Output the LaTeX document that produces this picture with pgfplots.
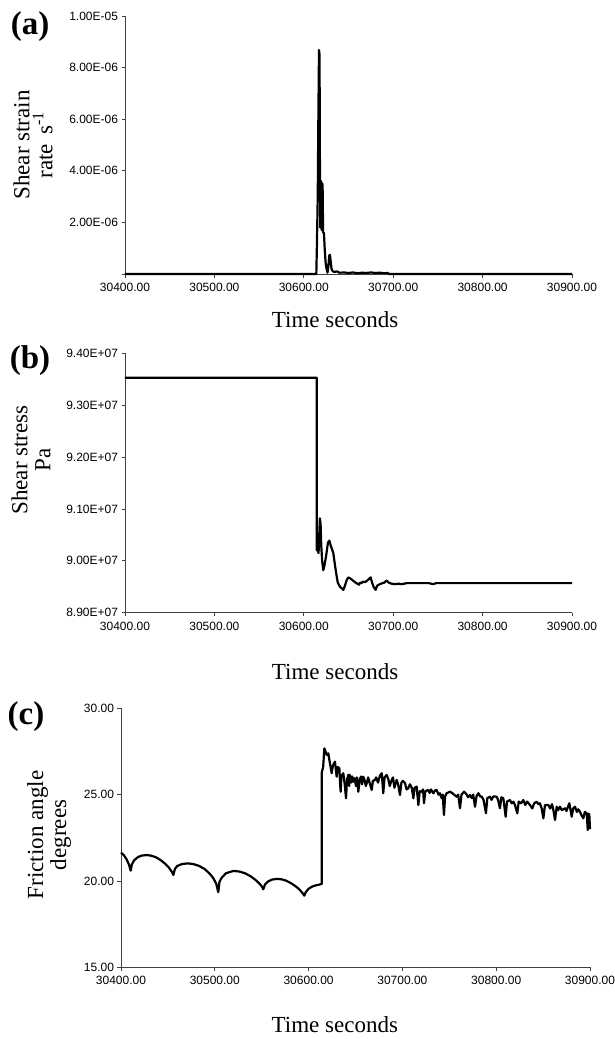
\documentclass[border=0pt]{standalone}
\usepackage{fontspec}
\setmainfont{Liberation Serif}
\newfontfamily\arial{Liberation Sans}
\usepackage{pgfplots}
\pgfplotsset{compat=1.18}

\pgfplotsset{
  xlstyle/.style={
    scale only axis,
    width=#1,
    axis x line=bottom, axis y line=left,
    axis line style={-, black!75, line width=0.8pt},
    tick style={black!75, line width=0.8pt},
    tick align=outside, major tick length=3.5pt,
    xmin=30400, xmax=30900,
    xtick={30400,30500,30600,30700,30800,30900},
    xticklabels={30400.00,30500.00,30600.00,30700.00,30800.00,30900.00},
    scaled y ticks=false, scaled x ticks=false,
    tick label style={font=\arial\fontsize{12}{13}\selectfont},
    xticklabel style={yshift=-2pt},
    label style={font=\fontsize{23}{23}\selectfont, align=center},
    xlabel={Time seconds},
    clip=false,
  },
  trace/.style={black, line width=2.2pt, line join=round, no marks},
}

\begin{document}
\begin{tikzpicture}
\useasboundingbox (0pt,0pt) rectangle (614pt,-1039pt);

% (a) shear strain rate
\begin{axis}[xlstyle=447pt, height=258pt,
  at={(125pt,-274pt)}, anchor=south west,
  ymin=0, ymax=1e-5,
  ytick={0,2e-6,4e-6,6e-6,8e-6,1e-5},
  yticklabels={,2.00E-06,4.00E-06,6.00E-06,8.00E-06,1.00E-05},
  ylabel={Shear strain\\rate\, s\textsuperscript{-1}},
  ylabel style={at={(axis description cs:-0.206,0.5)}, anchor=center},
  xlabel style={at={(axis description cs:0.47,-0.178)}, anchor=center},
]
\addplot[trace] coordinates {
 (30400,0) (30614.0,0) (30614.6,1.0e-6) (30615.6,3.0e-6) (30616.2,5.7e-6)
 (30617.0,8.68e-6) (30617.6,8.5e-6) (30618.0,4.5e-6) (30618.4,1.8e-6)
 (30618.8,3.6e-6) (30619.4,3.6e-6) (30620.0,1.7e-6) (30620.5,3.5e-6)
 (30621.0,3.5e-6) (30621.6,1.6e-6) (30622.5,1.6e-6) (30623.5,0.9e-6)
 (30624.5,0.4e-6) (30625.5,0.2e-6) (30626.5,0.05e-6) (30627.5,0.3e-6)
 (30628.5,0.72e-6) (30629.3,0.74e-6) (30630.2,0.45e-6) (30631.0,0.2e-6)
 (30632,0.12e-6) (30634,0.08e-6) (30637,0.1e-6) (30640,0.05e-6)
 (30645,0.06e-6) (30650,0.04e-6) (30655,0.06e-6) (30660,0.03e-6)
 (30665,0.05e-6) (30670,0.04e-6) (30675,0.06e-6) (30680,0.04e-6)
 (30685,0.05e-6) (30690,0.03e-6) (30694,0.04e-6) (30695,0) (30900,0)
};
\end{axis}

% (b) shear stress
\begin{axis}[xlstyle=447pt, height=259.4pt,
  at={(125pt,-612.7pt)}, anchor=south west,
  ymin=8.9e7, ymax=9.4e7,
  ytick={8.9e7,9.0e7,9.1e7,9.2e7,9.3e7,9.4e7},
  yticklabels={8.90E+07,9.00E+07,9.10E+07,9.20E+07,9.30E+07,9.40E+07},
  ylabel={Shear stress\\Pa},
  ylabel style={at={(axis description cs:-0.21,0.589)}, anchor=center},
  xlabel style={at={(axis description cs:0.47,-0.2275)}, anchor=center},
]
\addplot[trace] coordinates {
 (30400,9.353e7) (30614.4,9.353e7) (30614.5,9.021e7) (30615.5,9.02e7)
 (30616.5,9.015e7) (30617.3,9.05e7) (30618.0,9.082e7) (30618.8,9.07e7)
 (30619.5,9.03e7) (30620.5,9.0e7) (30621.8,8.982e7) (30623,8.99e7)
 (30625,9.01e7) (30627,9.035e7) (30628.6,9.039e7) (30630,9.03e7)
 (30633,9.015e7) (30635,8.99e7) (30636.8,8.970e7) (30638,8.958e7)
 (30640.5,8.950e7) (30644.2,8.944e7) (30646,8.952e7) (30648,8.963e7)
 (30649.8,8.968e7) (30652,8.966e7) (30655,8.962e7) (30658,8.958e7)
 (30661.7,8.954e7) (30663,8.958e7) (30664.7,8.957e7) (30666,8.960e7)
 (30668.5,8.959e7) (30671,8.962e7) (30674.8,8.968e7) (30676,8.96e7)
 (30678,8.95e7) (30680.4,8.944e7) (30682,8.952e7) (30685,8.955e7)
 (30688,8.957e7) (30690,8.958e7) (30692.7,8.962e7) (30695,8.958e7)
 (30698,8.956e7) (30702,8.955e7) (30706,8.956e7) (30710,8.955e7)
 (30715,8.957e7) (30740,8.957e7) (30744.5,8.955e7) (30748,8.957e7)
 (30900,8.957e7)
};
\end{axis}

% (c) friction angle
\begin{axis}[xlstyle=469pt, height=259pt,
  at={(121pt,-967.3pt)}, anchor=south west,
  ymin=15, ymax=30,
  ytick={15,20,25,30},
  yticklabels={15.00,20.00,25.00,30.00},
  ylabel={Friction angle\\degrees},
  ylabel style={at={(axis description cs:-0.1535,0.511)}, anchor=center},
  xlabel style={at={(axis description cs:0.456,-0.223)}, anchor=center},
]
\addplot[trace] coordinates {
 (30400,21.64) (30403,21.5) (30406,21.25) (30408.5,20.95) (30410.3,20.6)
 (30411.5,20.95) (30414,21.2) (30418,21.38) (30422,21.47) (30427,21.5)
 (30432,21.47) (30437,21.38) (30442,21.22) (30447,21.0) (30451,20.78)
 (30454,20.55) (30455.8,20.35) (30457.5,20.7) (30460,20.87) (30465,20.98)
 (30471,21.02) (30477,20.98) (30483,20.88) (30489,20.7) (30494,20.45)
 (30498,20.2) (30501.5,19.85) (30503.7,19.35) (30505,19.95) (30507.5,20.2)
 (30512,20.45) (30519.7,20.58) (30526,20.55) (30532,20.45) (30538,20.28)
 (30543,20.08) (30547,19.88) (30550,19.7) (30551.7,19.52) (30553.5,19.8)
 (30557,19.98) (30561,20.08) (30566,20.12) (30571,20.1) (30576,20.02)
 (30581,19.88) (30586,19.7) (30590,19.52) (30593.5,19.3) (30595.4,19.15)
 (30597,19.35) (30600,19.55) (30604,19.68) (30608,19.75) (30612,19.8)
 (30614,19.83) (30614.1,26.3) (30615.5,26.6) (30616.8,27.68) (30618,27.5)
 (30619.5,27.3) (30621,27.39) (30622.5,26.9) (30624.6,26.24) (30626,26.7)
 (30628.1,26.91) (30629.9,26.04) (30631,26.6) (30632.8,26.53) (30633.6,25.6)
 (30634.2,25.17) (30635,26.1) (30637,26.24) (30638.5,25.6) (30639.9,24.79)
 (30641,25.9) (30642.5,26.15) (30643.3,25.5) (30644.1,26.14) (30645.5,25.7)
 (30646.5,26.05) (30647.7,25.75) (30649,25.95) (30650.5,25.5) (30651.5,26.0)
 (30653,25.17) (30654.5,25.9) (30656,26.05) (30657,25.6) (30658.3,26.04)
 (30660,25.8) (30661,25.5) (30662,25.66) (30663.5,26.0) (30665,25.7)
 (30667.3,25.27) (30668.5,25.8) (30670.8,25.85) (30672,26.0) (30674,25.7)
 (30676,26.1) (30678,26.24) (30679.6,25.08) (30681,26.0) (30683.2,26.14)
 (30685,25.9) (30686.5,25.5) (30688.6,25.85) (30690,26.0) (30691.5,25.4)
 (30693.9,25.85) (30695.5,25.6) (30697.4,24.98) (30699,25.7) (30700.5,25.8)
 (30702.8,25.66) (30704.5,25.3) (30706.3,25.37) (30708,25.6) (30710,25.4)
 (30711.7,24.79) (30713,25.4) (30715.2,25.46) (30717,24.4) (30718.5,25.2)
 (30720.6,25.17) (30722,25.3) (30723,24.5) (30724.5,25.2) (30727.6,25.27)
 (30729,25.1) (30730.5,25.3) (30733,25.08) (30735,25.25) (30736.5,25.27)
 (30738.5,25.0) (30740,25.08) (30741.9,24.79) (30743,25.0) (30744.3,23.82)
 (30745.5,24.9) (30747.2,25.08) (30750.7,25.17) (30753,25.1) (30755,25.0)
 (30757.9,24.88) (30759.5,25.0) (30761.4,24.21) (30763,25.0) (30765.7,25.17)
 (30768,25.05) (30770,24.85) (30772.1,24.98) (30774,24.8) (30775.5,25.0)
 (30777.4,24.30) (30779,24.9) (30781,25.08) (30783,24.9) (30784.6,24.88)
 (30786.5,24.7) (30789.1,23.92) (30790.5,24.8) (30793.4,24.88) (30795,24.7)
 (30797,24.9) (30800.5,24.88) (30802,24.7) (30804,24.21) (30805.5,24.85)
 (30807.6,24.79) (30810.1,23.72) (30811.5,24.6) (30814.7,24.69) (30816.5,24.5)
 (30818.3,24.59) (30820,24.4) (30822.5,23.92) (30824,24.6) (30826.5,24.5)
 (30828.9,24.69) (30831,24.4) (30833,24.6) (30836,24.40) (30838.5,24.2)
 (30840.5,24.5) (30843.2,24.59) (30845,24.45) (30846.7,24.50) (30848.5,24.2)
 (30850.3,23.63) (30852,24.4) (30855.6,24.40) (30857.5,24.2) (30859.5,24.45)
 (30861,24.1) (30862.7,23.53) (30864.5,24.3) (30866,24.1) (30868,24.30)
 (30870,24.1) (30873.4,24.21) (30875,24.05) (30876.5,24.3) (30878,24.50)
 (30880.5,23.72) (30882,24.2) (30884,24.30) (30886,24.0) (30887.5,24.15)
 (30889.3,24.01) (30891,23.8) (30892.9,23.63) (30894.5,24.0) (30896.5,23.92)
 (30897.6,22.95) (30898.5,23.9) (30899.3,23.82) (30900,23.0)
};
\end{axis}

% panel letters
\node[font=\bfseries\fontsize{33}{33}\selectfont] at (30pt,-27pt) {(a)};
\node[font=\bfseries\fontsize{33}{33}\selectfont] at (30pt,-361pt) {(b)};
\node[font=\bfseries\fontsize{33}{33}\selectfont] at (26pt,-717pt) {(c)};
\end{tikzpicture}
\end{document}
